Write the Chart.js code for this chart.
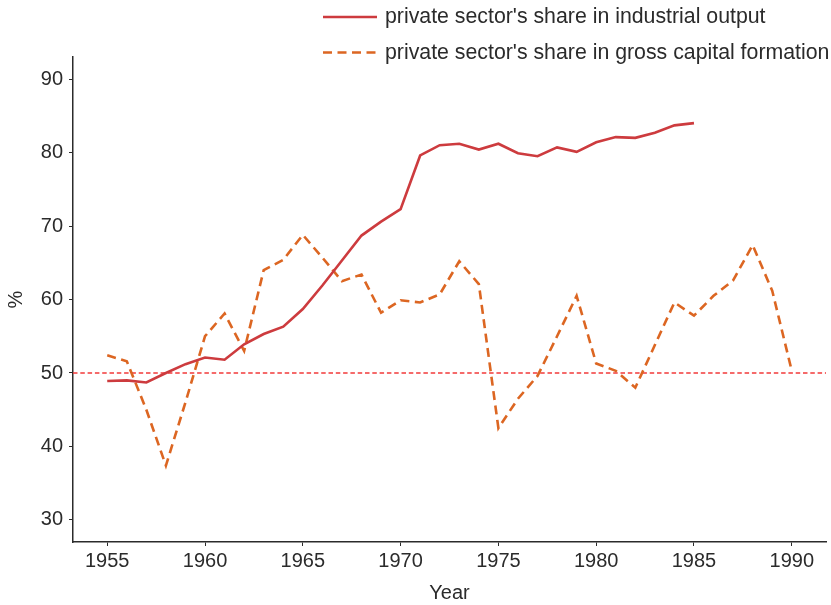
<!DOCTYPE html>
<html>
<head>
<meta charset="utf-8">
<script src="https://cdn.jsdelivr.net/npm/chart.js@4/dist/chart.umd.min.js"></script>
<style>
  body { margin: 0; background: #fff; }
  #chart { display: block; }
</style>
</head>
<body>
<canvas id="chart" width="831" height="605"></canvas>
<script>
// === Private sector shares, 1955-1990 ===

const years = [1955, 1956, 1957, 1958, 1959, 1960, 1961, 1962, 1963, 1964,
  1965, 1966, 1967, 1968, 1969, 1970, 1971, 1972, 1973, 1974,
  1975, 1976, 1977, 1978, 1979, 1980, 1981, 1982, 1983, 1984,
  1985, 1986, 1987, 1988, 1989, 1990];

// industrial output share (ends 1985)
const industrialOutput = [48.9, 49.0, 48.7, 50.0, 51.2, 52.1, 51.8, 53.9, 55.3, 56.3,
  58.7, 61.9, 65.3, 68.7, 70.6, 72.3, 79.6, 81.0, 81.2, 80.4,
  81.2, 79.9, 79.5, 80.7, 80.1, 81.4, 82.1, 82.0, 82.7, 83.7,
  84.0];

// gross capital formation share
const capitalFormation = [52.4, 51.6, 45.0, 37.4, 46.0, 55.0, 58.1, 53.0, 64.0, 65.4,
  68.8, 65.7, 62.5, 63.4, 58.2, 59.9, 59.6, 60.7, 65.2, 62.1,
  42.5, 46.5, 49.6, 55.0, 60.5, 51.3, 50.3, 48.0, 53.8, 59.6,
  57.8, 60.5, 62.6, 67.4, 61.2, 50.3];

const seriesLabels = [
  "private sector's share in industrial output",
  "private sector's share in gross capital formation"
];

const xTicks = [1955, 1960, 1965, 1970, 1975, 1980, 1985, 1990];
const yTicks = [30, 40, 50, 60, 70, 80, 90];
const xRange = [1953.25, 1991.75];
const yRange = [27, 93];
const refLevel = 50;

const FONT = "'Liberation Sans', Arial, sans-serif";
const INK = '#2b2b2b';

const toPoints = vals => vals.map((v, i) => ({ x: years[i], y: v }));

// legend drawn in the top right, two rows
const legendPlugin = {
  id: 'topLegend',
  afterDraw(chart) {
    const ctx = chart.ctx;
    ctx.save();
    [0, 1].forEach(i => {
      const ds = chart.data.datasets[i];
      const y = i === 0 ? 17 : 52.5;
      ctx.strokeStyle = ds.borderColor;
      ctx.lineWidth = ds.borderWidth;
      ctx.setLineDash(ds.borderDash || []);
      ctx.beginPath();
      ctx.moveTo(323, y);
      ctx.lineTo(377, y);
      ctx.stroke();
      ctx.setLineDash([]);
      ctx.fillStyle = INK;
      ctx.font = '21.3px ' + FONT;
      ctx.textBaseline = 'middle';
      ctx.textAlign = 'left';
      ctx.fillText(ds.label, 385, y + 0.5);
    });
    ctx.restore();
  }
};

const ctx = document.getElementById('chart').getContext('2d');
new Chart(ctx, {
  type: 'line',
  data: {
    datasets: [{
      label: seriesLabels[0],
      data: toPoints(industrialOutput),
      borderColor: '#cd3b3e',
      borderWidth: 2.6,
      pointRadius: 0,
      tension: 0,
      fill: false
    }, {
      label: seriesLabels[1],
      data: toPoints(capitalFormation),
      borderColor: '#dc6622',
      borderWidth: 2.6,
      borderDash: [9, 5.5],
      pointRadius: 0,
      tension: 0,
      fill: false
    }, {
      label: 'reference',
      data: [{ x: xRange[0], y: refLevel }, { x: xRange[1], y: refLevel }],
      borderColor: '#f23a3a',
      borderWidth: 1.3,
      borderDash: [4.5, 2.8],
      pointRadius: 0,
      fill: false
    }]
  },
  options: {
    responsive: false,
    animation: false,
    layout: { padding: { top: 57, right: 5, bottom: 0, left: 0 } },
    plugins: {
      legend: { display: false },
      tooltip: { enabled: false }
    },
    scales: {
      x: {
        type: 'linear',
        min: xRange[0],
        max: xRange[1],
        afterBuildTicks: s => { s.ticks = xTicks.map(v => ({ value: v })); },
        afterFit: s => { s.height = 63; },
        border: { display: true, color: INK, width: 1.5 },
        grid: { drawOnChartArea: false, drawTicks: true, tickLength: 4, color: INK, lineWidth: 1 },
        ticks: { color: INK, font: { family: FONT, size: 20 }, padding: 3, maxRotation: 0, callback: v => String(v) },
        title: { display: true, text: 'Year', color: INK, font: { family: FONT, size: 20 }, padding: { top: 0, bottom: 0 } }
      },
      y: {
        type: 'linear',
        min: yRange[0],
        max: yRange[1],
        afterBuildTicks: s => { s.ticks = yTicks.map(v => ({ value: v })); },
        afterFit: s => { s.width = 73; },
        border: { display: true, color: INK, width: 1.5 },
        grid: { drawOnChartArea: false, drawTicks: true, tickLength: 4, color: INK, lineWidth: 1 },
        ticks: { color: INK, font: { family: FONT, size: 20 }, padding: 6 },
        title: { display: true, text: '%', color: INK, font: { family: FONT, size: 20 }, padding: { top: 4, bottom: 0 } }
      }
    }
  },
  plugins: [legendPlugin]
});
</script>
</body>
</html>
